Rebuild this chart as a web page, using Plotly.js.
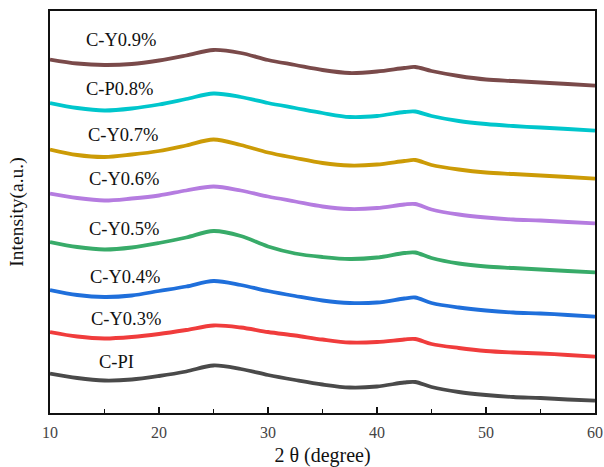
<!DOCTYPE html>
<html>
<head>
<meta charset="utf-8">
<script src="https://cdn.plot.ly/plotly-3.0.1.min.js"></script>
<style>html,body{margin:0;padding:0;background:#fff;}#chart{width:604px;height:467px;}</style>
</head>
<body>
<div id="chart"></div>
<script>
// 2θ sample positions (degree)
const twoTheta = [10, 12.5, 15, 17.5, 20, 22.5, 25, 27.5, 30, 32.5, 35, 37.5, 40, 42.5, 43.5, 45, 47.5, 50, 52.5, 55, 57.5, 60];

// Offset intensities (a.u.)
const cY09 = [353.5, 349.5, 348, 349, 352.5, 357.5, 363, 360, 353, 348, 343, 340, 341.5, 345, 346, 342, 337, 333.5, 332, 330.5, 329, 327.3];
const cP08 = [310, 305, 302.5, 304.5, 308.5, 314, 319.5, 316, 310, 305, 300, 296, 297, 301, 301.5, 297, 292, 289, 287, 285.5, 284, 282.3];
const cY07 = [263.5, 258, 256, 258.5, 262, 267.5, 273.5, 268, 260.5, 255, 250, 247.5, 248.5, 252, 253, 248, 243.5, 240.5, 239, 237.5, 236, 234.3];
const cY06 = [219.5, 215, 212.5, 214.5, 217.5, 222.5, 226.5, 222.5, 216.5, 211.5, 206.5, 204, 205, 208.5, 209, 203.5, 198.5, 195.5, 193.5, 192.5, 191, 189.7];
const cY05 = [171, 166, 163.5, 165.5, 170, 175.5, 182, 177, 166.5, 159.5, 156, 154, 155.5, 160, 160.5, 155, 149.5, 146.5, 145, 143.5, 142, 140.7];
const cY04 = [123, 118, 116, 117.5, 122, 126.5, 132, 128, 122, 117, 112.5, 110, 110.5, 114.5, 115.5, 110, 105.5, 102.5, 100.5, 99.5, 98, 96.3];
const cY03 = [81, 76.5, 74.5, 76, 79, 83, 87.5, 85.5, 81, 77.5, 73.5, 70.5, 71, 73.5, 74, 69, 65, 62, 60.5, 59.5, 58, 56.3];
const cPI  = [39.5, 35, 32.5, 33.5, 37, 41.5, 47.5, 44, 38, 33, 28.5, 25.5, 26.5, 30.5, 31, 26, 21, 18, 16, 15, 13.5, 12.3];

const seriesNames = ['C-Y0.9%', 'C-P0.8%', 'C-Y0.7%', 'C-Y0.6%', 'C-Y0.5%', 'C-Y0.4%', 'C-Y0.3%', 'C-PI'];
const seriesData = [cY09, cP08, cY07, cY06, cY05, cY04, cY03, cPI];
const seriesColors = ['#7a4a4a', '#00c6cc', '#cc9b06', '#b57ce0', '#38ab69', '#1f6fdb', '#f03c3c', '#4a4a4a'];

// label anchor positions (degree, intensity)
const labelX = [13.1, 13.1, 13.3, 13.4, 13.4, 13.5, 13.6, 14.3];
const labelY = [373, 324, 278, 234, 184, 136, 94, 51];

const traces = seriesData.map((ys, i) => ({
  x: twoTheta, y: ys, type: 'scatter', mode: 'lines', name: seriesNames[i],
  line: {color: seriesColors[i], width: 3.8, shape: 'spline', smoothing: 0.9},
  hoverinfo: 'skip'
}));

const annotations = seriesNames.map((n, i) => ({
  x: labelX[i], y: labelY[i], xref: 'x', yref: 'y', text: n, showarrow: false,
  xanchor: 'left', yanchor: 'middle',
  font: {family: 'Liberation Serif, Times New Roman, serif', size: 18.5, color: '#111'}
}));

const layout = {
  width: 604, height: 467,
  margin: {l: 50, r: 9, t: 11, b: 54},
  paper_bgcolor: '#fff', plot_bgcolor: '#fff',
  showlegend: false,
  xaxis: {
    range: [10, 60], dtick: 10, tick0: 10,
    ticks: 'inside', ticklen: 6, tickwidth: 1.3, tickcolor: '#111',
    showline: true, linecolor: '#111', linewidth: 1.6, mirror: true,
    showgrid: false, zeroline: false,
    ticklabelstandoff: 4,
    tickfont: {family: 'Liberation Serif, Times New Roman, serif', size: 16, color: '#444'},
    minor: {dtick: 5, tick0: 10, ticks: 'inside', ticklen: 4, tickwidth: 1.2, tickcolor: '#111', showgrid: false},
    title: {text: '2 θ (degree)', standoff: 8, font: {family: 'Liberation Serif, Times New Roman, serif', size: 20, color: '#111'}}
  },
  yaxis: {
    range: [0, 402],
    showticklabels: false, ticks: '',
    showline: true, linecolor: '#111', linewidth: 1.6, mirror: true,
    showgrid: false, zeroline: false,
    title: {text: 'Intensity(a.u.)', standoff: 19, font: {family: 'Liberation Serif, Times New Roman, serif', size: 19.5, color: '#111'}}
  },
  annotations: annotations
};

Plotly.newPlot('chart', traces, layout, {displayModeBar: false, staticPlot: true});
</script>
</body>
</html>
